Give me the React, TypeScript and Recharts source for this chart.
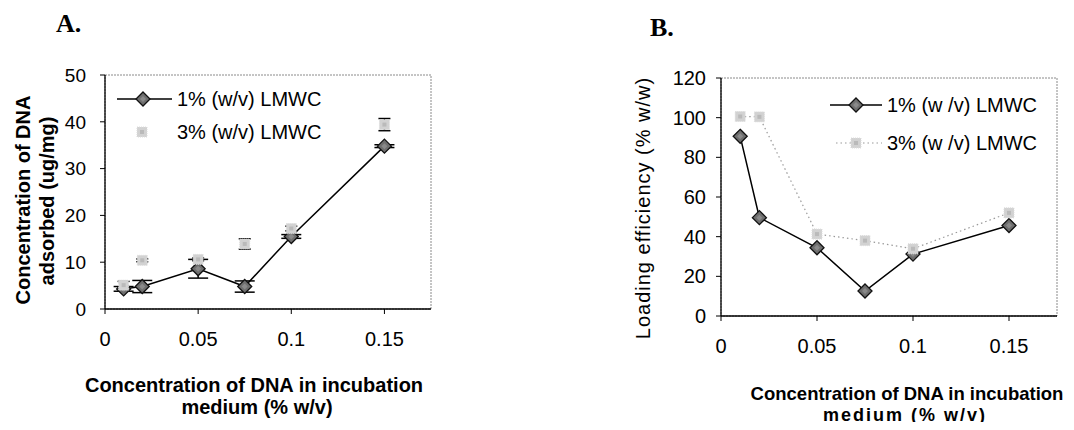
import React from "react";
import {
  LineChart,
  Line,
  XAxis,
  YAxis,
  ErrorBar,
  ReferenceArea,
} from "recharts";

// DNA concentration in the incubation medium (% w/v)
const concentrations = [0.01, 0.02, 0.05, 0.075, 0.1, 0.15];
const xTicks = [0, 0.05, 0.1, 0.15];

// Panel A: DNA adsorbed (ug/mg)
const adsorbed1 = [4.3, 4.8, 8.6, 4.8, 15.5, 34.8];
const adsorbed1Err = [0.5, 1.3, 2.0, 1.2, 0.4, 0.3];
const adsorbed3 = [5.1, 10.4, 10.6, 13.9, 17.2, 39.4];
const adsorbed3Err = [0.8, 0.3, 0.3, 1.1, 0.5, 1.3];
const yTicksA = [0, 10, 20, 30, 40, 50];

// Panel B: loading efficiency (% w/w)
const loading1 = [90.6, 49.6, 34.4, 12.6, 31.2, 45.6];
const loading3 = [100.6, 100.4, 41.3, 38.0, 33.9, 52.0];
const yTicksB = [0, 20, 40, 60, 80, 100, 120];

const seriesNames = ["1% (w/v) LMWC", "3% (w/v) LMWC"];
const seriesNamesB = ["1% (w /v) LMWC", "3% (w /v) LMWC"];

const adsorbedRows = concentrations.map((x, i) => ({
  x,
  a1: adsorbed1[i],
  e1: adsorbed1Err[i],
  a3: adsorbed3[i],
  e3: adsorbed3Err[i],
}));

const loadingRows = concentrations.map((x, i) => ({
  x,
  l1: loading1[i],
  l3: loading3[i],
}));

const FONT = "'Liberation Sans', Arial, sans-serif";
const xTickStyle = { fill: "#000", fontSize: 20, fontFamily: FONT };
const yTickStyleA = { fill: "#000", fontSize: 19, fontFamily: FONT };
const yTickStyleB = { fill: "#000", fontSize: 20, fontFamily: FONT };

function Diamond(props: any) {
  const { cx, cy } = props;
  if (cx == null || cy == null) return null;
  const r = 7;
  return (
    <g>
      <polygon
        points={`${cx},${cy - r} ${cx + r},${cy} ${cx},${cy + r} ${cx - r},${cy}`}
        fill="#6e6e6e"
        stroke="#111"
        strokeWidth={1.3}
      />
      <polygon
        points={`${cx},${cy - 3} ${cx + 3},${cy} ${cx},${cy + 3} ${cx - 3},${cy}`}
        fill="#8a8a8a"
      />
    </g>
  );
}

function Speckle(props: any) {
  const { cx, cy } = props;
  if (cx == null || cy == null) return null;
  return (
    <g>
      <rect x={cx - 5} y={cy - 5} width={10} height={10} fill="#d2d2d2" stroke="#dcdcdc" strokeWidth={1} strokeDasharray="1 1" />
      <rect x={cx - 2} y={cy - 2} width={4} height={4} fill="#bababa" />
    </g>
  );
}

function LegendRow({
  top,
  left,
  label,
  lineStart,
  lineEnd,
  markerX,
  kind,
}: {
  top: number;
  left: number;
  label: string;
  lineStart: number;
  lineEnd: number;
  markerX: number;
  kind: "solid" | "dotted" | "none";
}) {
  return (
    <div style={{ position: "absolute", top: top - 14, left: lineStart, height: 28, display: "flex", alignItems: "center" }}>
      <svg width={lineEnd - lineStart} height={28} style={{ display: "block" }}>
        {kind === "solid" && <line x1={0} y1={14} x2={lineEnd - lineStart} y2={14} stroke="#000" strokeWidth={1.5} />}
        {kind === "dotted" && (
          <line x1={0} y1={14} x2={lineEnd - lineStart} y2={14} stroke="#999" strokeWidth={1.2} strokeDasharray="1.5 3" />
        )}
        {kind === "solid" ? <Diamond cx={markerX - lineStart} cy={14} /> : <Speckle cx={markerX - lineStart} cy={14} />}
      </svg>
      <span style={{ position: "absolute", left: left - lineStart, fontSize: 20, fontFamily: FONT, whiteSpace: "nowrap", lineHeight: "28px" }}>
        {label}
      </span>
    </div>
  );
}

function RotatedText({ cx, cy, children, style }: { cx: number; cy: number; children: React.ReactNode; style?: React.CSSProperties }) {
  return (
    <div
      style={{
        position: "absolute",
        left: cx,
        top: cy,
        transform: "translate(-50%, -50%) rotate(-90deg)",
        whiteSpace: "nowrap",
        fontFamily: FONT,
        ...style,
      }}
    >
      {children}
    </div>
  );
}

function CenteredText({ cx, cy, children, style }: { cx: number; cy: number; children: React.ReactNode; style?: React.CSSProperties }) {
  return (
    <div
      style={{
        position: "absolute",
        left: cx,
        top: cy,
        transform: "translate(-50%, -50%)",
        whiteSpace: "nowrap",
        fontFamily: FONT,
        ...style,
      }}
    >
      {children}
    </div>
  );
}

const panelTitle: React.CSSProperties = {
  position: "absolute",
  fontFamily: "'Liberation Serif', 'Times New Roman', serif",
  fontWeight: "bold",
  fontSize: 26,
  lineHeight: "26px",
};

export default function App() {
  return (
    <div style={{ position: "relative", width: 1074, height: 430, margin: -8, background: "#fff", overflow: "hidden" }}>
      <div style={{ ...panelTitle, left: 56, top: 11 }}>A.</div>
      <div style={{ ...panelTitle, left: 650, top: 15 }}>B.</div>

      {/* Panel A: adsorbed DNA */}
      <div style={{ position: "absolute", left: 0, top: 0 }}>
        <LineChart width={440} height={430} data={adsorbedRows} margin={{ top: 75, right: 9, bottom: 0, left: 0 }}>
          <ReferenceArea x1={0} x2={0.175} y1={0} y2={50} fill="none" stroke="#8a8a8a" strokeDasharray="2 1" />
          <XAxis
            type="number"
            dataKey="x"
            domain={[0, 0.175]}
            ticks={xTicks}
            allowDataOverflow
            height={121}
            tick={xTickStyle}
            tickSize={5}
            tickMargin={18}
            axisLine={{ stroke: "#000", strokeWidth: 1.3 }}
            tickLine={{ stroke: "#000" }}
          />
          <YAxis
            type="number"
            domain={[0, 50]}
            ticks={yTicksA}
            allowDataOverflow
            width={105}
            tick={yTickStyleA}
            tickSize={5}
            tickMargin={14}
            axisLine={{ stroke: "#000", strokeWidth: 1.3 }}
            tickLine={{ stroke: "#000" }}
          />
          <Line
            dataKey="a1"
            stroke="#000"
            strokeWidth={1.5}
            dot={<Diamond />}
            activeDot={false}
            isAnimationActive={false}
          >
            <ErrorBar dataKey="e1" width={10} stroke="#000" strokeWidth={1.5} direction="y" />
          </Line>
          <Line
            dataKey="a3"
            stroke="none"
            dot={<Speckle />}
            activeDot={false}
            isAnimationActive={false}
          >
            <ErrorBar dataKey="e3" width={6} stroke="#000" strokeWidth={1.5} direction="y" />
          </Line>
        </LineChart>
      </div>

      <LegendRow top={99} left={177} label={seriesNames[0]} lineStart={117} lineEnd={172} markerX={143} kind="solid" />
      <LegendRow top={132} left={177} label={seriesNames[1]} lineStart={117} lineEnd={172} markerX={142} kind="none" />

      <RotatedText cx={23} cy={200} style={{ fontSize: 20, fontWeight: "bold" }}>
        Concentration of DNA
      </RotatedText>
      <RotatedText cx={47} cy={201} style={{ fontSize: 20, fontWeight: "bold" }}>
        adsorbed (ug/mg)
      </RotatedText>
      <CenteredText cx={254} cy={385} style={{ fontSize: 20, fontWeight: "bold" }}>
        Concentration of DNA in incubation
      </CenteredText>
      <CenteredText cx={257} cy={407} style={{ fontSize: 20, fontWeight: "bold" }}>
        medium (% w/v)
      </CenteredText>

      {/* Panel B: loading efficiency */}
      <div style={{ position: "absolute", left: 560, top: 0 }}>
        <LineChart width={514} height={430} data={loadingRows} margin={{ top: 78, right: 17, bottom: 0, left: 0 }}>
          <ReferenceArea x1={0} x2={0.175} y1={0} y2={120} fill="none" stroke="#8a8a8a" strokeDasharray="2 1" />
          <XAxis
            type="number"
            dataKey="x"
            domain={[0, 0.175]}
            ticks={xTicks}
            allowDataOverflow
            height={114}
            tick={xTickStyle}
            tickSize={5}
            tickMargin={18}
            axisLine={{ stroke: "#000", strokeWidth: 1.3 }}
            tickLine={{ stroke: "#000" }}
          />
          <YAxis
            type="number"
            domain={[0, 120]}
            ticks={yTicksB}
            allowDataOverflow
            width={161}
            tick={yTickStyleB}
            tickSize={5}
            tickMargin={10}
            axisLine={{ stroke: "#000", strokeWidth: 1.3 }}
            tickLine={{ stroke: "#000" }}
          />
          <Line
            dataKey="l1"
            stroke="#000"
            strokeWidth={1.5}
            dot={<Diamond />}
            activeDot={false}
            isAnimationActive={false}
          />
          <Line
            dataKey="l3"
            stroke="#999"
            strokeWidth={1.2}
            strokeDasharray="1.5 3"
            dot={<Speckle />}
            activeDot={false}
            isAnimationActive={false}
          />
        </LineChart>
      </div>

      <LegendRow top={105} left={887} label={seriesNamesB[0]} lineStart={830} lineEnd={882} markerX={856} kind="solid" />
      <LegendRow top={143} left={887} label={seriesNamesB[1]} lineStart={836} lineEnd={882} markerX={856} kind="dotted" />

      <RotatedText cx={643} cy={208} style={{ fontSize: 20, letterSpacing: 1 }}>
        Loading efficiency (% w/w)
      </RotatedText>
      <CenteredText cx={907} cy={394} style={{ fontSize: 18.5, fontWeight: "bold" }}>
        Concentration of DNA in incubation
      </CenteredText>
      <CenteredText cx={905} cy={415} style={{ fontSize: 18, fontWeight: "bold", letterSpacing: 2 }}>
        medium (% w/v)
      </CenteredText>
    </div>
  );
}
